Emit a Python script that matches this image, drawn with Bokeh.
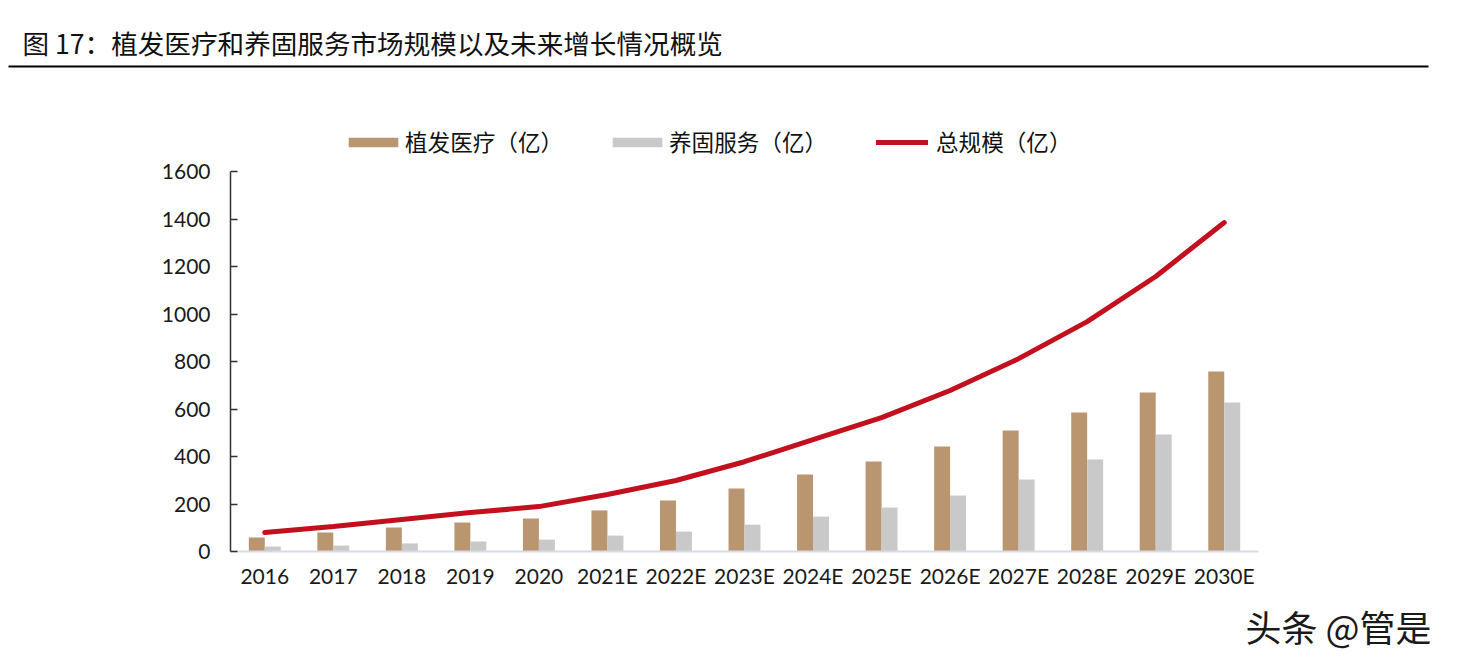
from bokeh.plotting import figure
from bokeh.models import (FixedTicker, Legend, LegendItem, Range1d, LinearAxis,
                          ColumnDataSource)
from bokeh.transform import dodge
from bokeh.core.properties import value
from bokeh.embed import file_html
from bokeh.resources import INLINE

years = ["2016", "2017", "2018", "2019", "2020", "2021E", "2022E", "2023E",
         "2024E", "2025E", "2026E", "2027E", "2028E", "2029E", "2030E"]
hair_transplant = [59, 80, 101, 122, 139, 173, 215, 265, 324, 379, 442, 509, 585, 669, 758]
hair_care = [21, 25, 34, 42, 50, 67, 84, 113, 147, 185, 236, 303, 387, 493, 627]
total = [80, 105, 135, 164, 189, 240, 299, 378, 471, 564, 678, 812, 968, 1158, 1385]
y_ticks = [0, 200, 400, 600, 800, 1000, 1200, 1400, 1600]

title_text = "图 17：植发医疗和养固服务市场规模以及未来增长情况概览"
labels = ["植发医疗（亿）", "养固服务（亿）", "总规模（亿）"]
watermark = "头条 @管是"

BROWN = "#B99670"
GRAY = "#C9C9C9"
RED = "#C2101F"
CJK = "Noto Sans CJK SC"
NUM = "Lato"

# canvas / layout geometry (pixels)
W, H = 1450, 653
PLOT_L, PLOT_R = 230, 1258      # category area left/right
AX_Y0, AX_Y1 = 551, 171         # pixel rows of y = 0 and y = 1600
N = len(years)
unit = (PLOT_R - PLOT_L) / N
XS = -0.5 - PLOT_L / unit
XE = XS + W / unit
yscale = (AX_Y0 - AX_Y1) / 1600
YE = AX_Y0 / yscale
YS = -(H - AX_Y0) / yscale

xs = list(range(N))
src = ColumnDataSource(dict(x=xs, a=hair_transplant, b=hair_care, t=total))

p = figure(width=W, height=H, x_range=Range1d(XS, XE), y_range=Range1d(YS, YE),
           x_axis_type=None, y_axis_type=None, min_border=0,
           output_backend="svg", toolbar_location=None)
p.outline_line_color = None
p.extra_x_ranges = {"px": Range1d(0, W)}
p.extra_y_ranges = {"px": Range1d(H, 0)}

bw = 0.233
r1 = p.vbar(x=dodge("x", -bw / 2), top="a", width=bw, source=src,
            color=BROWN, line_color=None)
r2 = p.vbar(x=dodge("x", bw / 2), top="b", width=bw, source=src,
            color=GRAY, line_color=None)
r3 = p.line(x="x", y="t", source=src, line_color=RED, line_width=5, line_cap="round")

# axes
yaxis = LinearAxis(ticker=FixedTicker(ticks=y_ticks), fixed_location=-0.5,
                   bounds=(0, 1600))
yaxis.axis_line_color = "#333333"
yaxis.axis_line_width = 1.5
yaxis.major_tick_line_color = "#333333"
yaxis.major_tick_line_width = 1.5
yaxis.major_tick_in = 7
yaxis.major_tick_out = 0
yaxis.minor_tick_line_color = None
yaxis.major_label_standoff = 20
yaxis.major_label_text_font = NUM
yaxis.major_label_text_font_size = "21px"
yaxis.major_label_text_color = "#1a1a1a"
p.add_layout(yaxis, "left")

xaxis = LinearAxis(ticker=FixedTicker(ticks=xs),
                   major_label_overrides={i: yr for i, yr in enumerate(years)},
                   fixed_location=0, bounds=(-0.5, N - 0.5))
xaxis.axis_line_color = "#D5DCE6"
xaxis.axis_line_width = 2
xaxis.major_tick_line_color = None
xaxis.minor_tick_line_color = None
xaxis.major_label_standoff = 5
xaxis.major_label_text_font = NUM
xaxis.major_label_text_font_size = "21px"
xaxis.major_label_text_color = "#1a1a1a"
p.add_layout(xaxis, "below")

# title and rule
p.text(x=[22], y=[42], text=[title_text], text_font=value(CJK),
       text_font_size="26.6px", text_color="#111111", text_baseline="middle",
       text_align="left", x_range_name="px", y_range_name="px")
p.line(x=[8, 1428], y=[66, 66], line_color="#000000", line_width=2,
       x_range_name="px", y_range_name="px")


def mk_legend(label, r, x, y, gw, gh, standoff):
    lg = Legend(items=[LegendItem(label=label, renderers=[r])],
                location=(x, y), orientation="horizontal",
                glyph_width=gw, glyph_height=gh, label_standoff=standoff,
                label_text_font=CJK, label_text_font_size="22.6px",
                label_text_color="#111111", label_height=20,
                padding=0, margin=0, spacing=0,
                border_line_color=None, background_fill_alpha=0)
    p.add_layout(lg)


LEG_Y = H - 144 - 14
mk_legend(labels[0], r1, 342, LEG_Y, 62, 12, 1)
mk_legend(labels[1], r2, 606, LEG_Y, 62, 12, 1)
mk_legend(labels[2], r3, 876, LEG_Y, 52, 12, 8)

# watermark
p.text(x=[1245], y=[625], text=[watermark], text_font=value(CJK),
       text_font_size="36px", text_color="#1a1a1a", text_baseline="middle",
       text_align="left", x_range_name="px", y_range_name="px")

open("out.html", "w").write(file_html(p, INLINE))
